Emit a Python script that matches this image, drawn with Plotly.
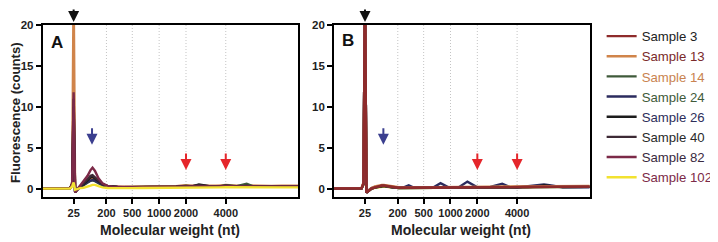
import plotly.graph_objects as go

# migration time grid (s) shared by all traces
t = [17, 19, 21, 22.5, 22.9, 23.2, 23.5, 23.9, 24.5, 25.2, 26.0, 26.6, 27.0, 27.5, 28.2, 29.0, 30.0,
     31, 32, 33, 35, 37, 38.4, 40, 42, 43.8, 45.8, 47, 48.4, 50.8, 52.5, 53.8, 56, 58, 59.2, 61, 63, 65, 67, 68.4]

# ladder calibration: size labels and their migration times
ladder_nt = ["25", "200", "500", "1000", "2000", "4000"]
ladder_t = [23.2, 29.8, 35.0, 40.4, 45.8, 53.8]

samples = ["Sample 3", "Sample 13", "Sample 14", "Sample 24", "Sample 26", "Sample 40", "Sample 82", "Sample 102"]
line_colors = ["#8E2B2B", "#D0844A", "#3F5A3A", "#2B2B5E", "#1C1C1C", "#3D2A35", "#7C2A48", "#F2E230"]
text_colors = ["#222222", "#7A2A2A", "#C98350", "#3F5A3A", "#2E2E5A", "#2A2A2A", "#3A2A40", "#7C2A48"]

# Panel A
a_s3   = [0.05,0.08,0.06,0.08,0.6,11.8,-0.4,-0.1,0.3,0.6,1.0,1.3,1.4,1.2,0.9,0.55,0.35,0.28,0.25,0.22,0.22,0.24,0.22,0.25,0.27,0.28,0.35,0.3,0.4,0.3,0.32,0.4,0.32,0.38,0.33,0.32,0.3,0.32,0.33,0.32]
a_s13  = [0.06,0.07,0.08,0.1,0.8,25,-0.3,0.0,0.3,0.55,0.9,1.1,1.2,1.1,0.85,0.55,0.38,0.3,0.28,0.27,0.28,0.3,0.28,0.3,0.33,0.35,0.45,0.38,0.4,0.38,0.4,0.5,0.4,0.42,0.4,0.4,0.38,0.4,0.42,0.4]
a_s14  = [0.04,0.05,0.05,0.07,0.5,8.0,-0.3,-0.1,0.25,0.45,0.8,1.0,1.05,0.95,0.7,0.45,0.3,0.25,0.22,0.2,0.2,0.22,0.2,0.22,0.25,0.25,0.4,0.3,0.35,0.3,0.32,0.45,0.35,0.65,0.35,0.3,0.3,0.3,0.3,0.3]
a_s24  = [0.05,0.06,0.05,0.07,0.5,6.0,-0.3,-0.1,0.25,0.5,0.85,1.05,1.1,1.0,0.75,0.5,0.3,0.24,0.22,0.2,0.2,0.2,0.2,0.22,0.24,0.25,0.3,0.28,0.3,0.28,0.3,0.35,0.3,0.32,0.3,0.3,0.3,0.3,0.3,0.3]
a_s26  = [0.05,0.07,0.06,0.08,0.6,10.0,-0.4,-0.1,0.3,0.6,1.1,1.4,1.5,1.3,0.95,0.6,0.35,0.27,0.24,0.22,0.22,0.23,0.22,0.24,0.26,0.27,0.32,0.3,0.55,0.3,0.3,0.38,0.32,0.35,0.32,0.3,0.3,0.3,0.32,0.3]
a_s40  = [0.05,0.07,0.06,0.08,0.6,11.0,-0.4,-0.1,0.35,0.7,1.2,1.6,1.7,1.45,1.0,0.6,0.35,0.27,0.24,0.22,0.22,0.23,0.22,0.24,0.26,0.27,0.32,0.3,0.45,0.3,0.3,0.4,0.32,0.4,0.32,0.3,0.3,0.3,0.32,0.3]
a_s82  = [0.05,0.07,0.06,0.08,0.6,11.8,-0.4,-0.1,0.4,0.9,1.6,2.3,2.6,2.2,1.3,0.7,0.38,0.28,0.25,0.22,0.22,0.23,0.22,0.24,0.26,0.27,0.32,0.3,0.35,0.3,0.3,0.36,0.3,0.33,0.3,0.3,0.3,0.3,0.3,0.3]
a_s102 = [0.04,0.05,0.05,0.06,0.3,0.8,-0.1,0.0,0.1,0.15,0.25,0.4,0.5,0.5,0.35,0.2,0.12,0.1,0.1,0.1,0.1,0.12,0.12,0.12,0.14,0.15,0.18,0.18,0.2,0.2,0.2,0.22,0.2,0.22,0.2,0.2,0.2,0.2,0.2,0.2]

# Panel B
b_s3   = [0.05,0.06,0.05,0.07,0.7,25,-0.45,-0.25,0.05,0.2,0.35,0.42,0.42,0.36,0.28,0.2,0.15,0.14,0.14,0.13,0.14,0.15,0.15,0.16,0.17,0.18,0.2,0.2,0.2,0.22,0.22,0.24,0.24,0.26,0.26,0.26,0.27,0.28,0.28,0.28]
b_s13  = [0.1,0.1,0.1,0.12,0.8,25,-0.35,-0.15,0.12,0.3,0.45,0.5,0.5,0.45,0.35,0.26,0.22,0.2,0.2,0.2,0.2,0.22,0.22,0.22,0.24,0.25,0.26,0.27,0.28,0.3,0.3,0.3,0.32,0.33,0.34,0.35,0.35,0.36,0.36,0.37]
b_s14  = [0.04,0.05,0.04,0.06,0.6,25,-0.45,-0.25,0.03,0.18,0.32,0.38,0.38,0.32,0.24,0.18,0.12,0.12,0.12,0.12,0.12,0.13,0.13,0.14,0.15,0.16,0.18,0.18,0.19,0.2,0.2,0.22,0.22,0.23,0.24,0.24,0.25,0.25,0.26,0.26]
b_s24  = [0.05,0.06,0.05,0.07,0.6,25,-0.4,-0.2,0.1,0.25,0.35,0.4,0.4,0.35,0.28,0.2,0.15,0.2,0.45,0.18,0.15,0.2,0.7,0.2,0.18,0.9,0.2,0.18,0.25,0.62,0.2,0.18,0.35,0.5,0.55,0.4,0.2,0.2,0.22,0.2]
b_s26  = [0.05,0.05,0.05,0.06,0.6,25,-0.45,-0.25,0.05,0.18,0.3,0.36,0.36,0.3,0.22,0.16,0.12,0.12,0.12,0.12,0.12,0.13,0.13,0.14,0.15,0.16,0.17,0.18,0.19,0.2,0.2,0.21,0.22,0.3,0.45,0.3,0.24,0.25,0.25,0.25]
b_s40  = [0.05,0.06,0.05,0.07,0.6,25,-0.45,-0.25,0.05,0.2,0.33,0.4,0.4,0.34,0.25,0.18,0.13,0.13,0.13,0.13,0.13,0.14,0.14,0.15,0.16,0.17,0.18,0.19,0.2,0.21,0.21,0.22,0.23,0.24,0.25,0.25,0.26,0.26,0.27,0.27]
b_s82  = [0.05,0.06,0.05,0.07,0.6,25,-0.45,-0.25,0.05,0.2,0.34,0.4,0.4,0.34,0.26,0.19,0.14,0.14,0.14,0.14,0.14,0.15,0.15,0.16,0.17,0.18,0.19,0.2,0.2,0.22,0.22,0.23,0.24,0.25,0.26,0.26,0.27,0.27,0.28,0.28]
b_s102 = [0.05,0.05,0.05,0.06,0.5,20,-0.4,-0.25,0.03,0.15,0.25,0.3,0.3,0.26,0.2,0.14,0.12,0.12,0.12,0.12,0.12,0.13,0.13,0.14,0.14,0.15,0.16,0.17,0.18,0.19,0.19,0.2,0.21,0.22,0.22,0.23,0.24,0.24,0.25,0.25]

panel_a = [a_s3, a_s13, a_s14, a_s24, a_s26, a_s40, a_s82, a_s102]
panel_b = [b_s3, b_s13, b_s14, b_s24, b_s26, b_s40, b_s82, b_s102]
b_draw_order = [7, 3, 4, 5, 2, 1, 6, 0]

FONT = "Liberation Sans, Arial, sans-serif"
OFF = 8                      # page body margin
W, H = 718 - OFF, 242 - OFF  # figure size so the page fits the window


def px_x(x):
    return (x - OFF) / W


def px_y(y):
    return 1 - (y - OFF) / H


fig = go.Figure()
for i, name in enumerate(samples):
    fig.add_trace(go.Scatter(
        x=t, y=panel_a[i], mode="lines", xaxis="x", yaxis="y",
        line=dict(color=line_colors[i], width=2.4),
        name=f'<span style="color:{text_colors[i]}">{name}</span>',
        legendgroup=name, showlegend=True))
for i in b_draw_order:
    fig.add_trace(go.Scatter(
        x=t, y=panel_b[i], mode="lines", xaxis="x2", yaxis="y2",
        line=dict(color=line_colors[i], width=2.4),
        name=samples[i], legendgroup=samples[i], showlegend=False))

xa = [px_x(43), px_x(300)]
xb = [px_x(336), px_x(593)]
yd = [px_y(197), px_y(25)]

common_x = dict(range=[17, 68.4], tickmode="array", tickvals=ladder_t, ticktext=ladder_nt,
                showline=True, mirror=True, linecolor="black", linewidth=2,
                ticks="outside", ticklen=5, tickwidth=2, tickcolor="black",
                showgrid=False, zeroline=False, automargin=False,
                tickfont=dict(family=FONT, size=11, color="#222", weight="bold"))
common_y = dict(range=[-0.98, 20], tickmode="array", tickvals=[0, 5, 10, 15, 20],
                showline=True, mirror=True, linecolor="black", linewidth=2,
                ticks="outside", ticklen=5, tickwidth=2, tickcolor="black",
                showgrid=False, zeroline=False, automargin=False,
                tickfont=dict(family=FONT, size=11.5, color="#222", weight="bold"))

fig.update_layout(
    width=W, height=H, margin=dict(l=0, r=0, t=0, b=0),
    paper_bgcolor="white", plot_bgcolor="white",
    font=dict(family=FONT, color="#222"),
    xaxis=dict(domain=xa, anchor="y", **common_x),
    yaxis=dict(domain=yd, anchor="x", **common_y),
    xaxis2=dict(domain=xb, anchor="y2", **common_x),
    yaxis2=dict(domain=yd, anchor="x2", **common_y),
    legend=dict(x=px_x(605), y=px_y(21), xanchor="left", yanchor="top",
                font=dict(family=FONT, size=13.2), bgcolor="rgba(0,0,0,0)",
                tracegroupgap=0, itemwidth=30),
    showlegend=True,
)

shapes = []
anns = []
for xr, yr in (("x", "y"), ("x2", "y2")):
    for tv in ladder_t[1:]:
        shapes.append(dict(type="line", xref=xr, yref=f"{yr} domain", x0=tv, x1=tv, y0=0, y1=1,
                           line=dict(color="#C4C4C4", width=1, dash="1px,2px"), layer="below"))
    # black arrow above the marker peak
    anns.append(dict(xref=xr, yref="paper", x=ladder_t[0], y=px_y(22), ax=0, ay=-20,
                     showarrow=True, arrowhead=2, arrowsize=1.1, arrowwidth=2, arrowcolor="#111", text=""))
    # blue arrow
    anns.append(dict(xref=xr, yref=yr, x=26.9, y=5.4, ax=0, ay=-18,
                     showarrow=True, arrowhead=2, arrowsize=1.1, arrowwidth=2, arrowcolor="#3B3F8F", text=""))
    # red arrows
    for tv in ladder_t[4:]:
        anns.append(dict(xref=xr, yref=yr, x=tv, y=2.3, ax=0, ay=-18,
                         showarrow=True, arrowhead=2, arrowsize=1.1, arrowwidth=2, arrowcolor="#E5262B", text=""))

# panel letters
anns.append(dict(xref="paper", yref="paper", x=px_x(57), y=px_y(42), text="<b>A</b>", showarrow=False,
                 font=dict(family=FONT, size=17, color="#111"), xanchor="center", yanchor="middle"))
anns.append(dict(xref="paper", yref="paper", x=px_x(350), y=px_y(41), text="<b>B</b>", showarrow=False,
                 font=dict(family=FONT, size=17, color="#111"), xanchor="center", yanchor="middle"))
# axis titles
for cx in (171, 464):
    anns.append(dict(xref="paper", yref="paper", x=px_x(cx), y=px_y(230), text="<b>Molecular weight (nt)</b>",
                     showarrow=False, font=dict(family=FONT, size=14, color="#222"),
                     xanchor="center", yanchor="middle"))
anns.append(dict(xref="paper", yref="paper", x=px_x(15), y=px_y(112), text="<b>Fluorescence (counts)</b>",
                 showarrow=False, textangle=-90, font=dict(family=FONT, size=13.2, color="#222"),
                 xanchor="center", yanchor="middle"))

fig.update_layout(shapes=shapes, annotations=anns)
fig.write_html("out.html")
